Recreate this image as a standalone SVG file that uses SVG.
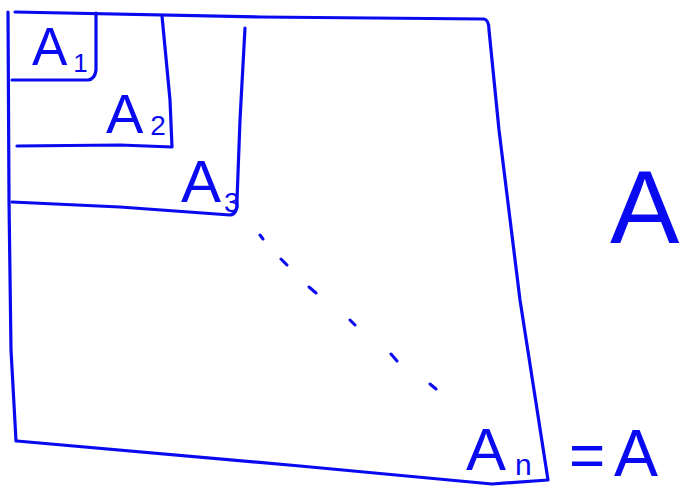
<svg xmlns="http://www.w3.org/2000/svg" width="686" height="492" viewBox="0 0 686 492">
<style>
.s{fill:none;stroke:#0a0af0;stroke-width:3.2;stroke-linecap:round;stroke-linejoin:round}
.d{fill:none;stroke:#0a0af0;stroke-width:3;stroke-linecap:round}
.t{fill:#0a0af0;font-family:"Liberation Sans","DejaVu Sans",sans-serif}
</style>
<rect width="686" height="492" fill="#fff"/>
<g id="outer">
<path class="s" d="M15,12 L260,17 L484,19 Q489,20 489,30 L499,130 L520,300 L548,480 L492,484 L300,466 L17,441"/>
<path class="s" d="M8,12 L9,200 L11,350 L16,441"/>
</g>
<g id="box1">
<path class="s" d="M12,80 L88,80 Q95,79 96,70 L96,13"/>
<text class="t" x="32" y="65" font-size="53">A<tspan font-size="26" dx="6" dy="7">1</tspan></text>
</g>
<g id="box2">
<path class="s" d="M17,146 L120,145 L172,147 L170,100 L162,16"/>
<text class="t" x="106" y="133" font-size="56">A<tspan font-size="28" dx="7" dy="2">2</tspan></text>
</g>
<g id="box3">
<path class="s" d="M12,202 L120,207 L230,215 Q238,214 237,200 L240,120 L245,28"/>
<text class="t" x="181" y="202" font-size="60">A<tspan font-size="28" dx="3" dy="10">3</tspan></text>
</g>
<g id="boxn">
<text class="t" x="466" y="470" font-size="60">A<tspan font-size="30" dx="9" dy="5">n</tspan></text>
<text class="t" x="569" y="476" font-size="62">=</text>
<text class="t" x="614" y="476" font-size="66">A</text>
</g>
<g id="labelA">
<text class="t" x="610" y="243" font-size="104">A</text>
</g>
<g id="connectors">
<path class="d" d="M260,235 L263,239 M281,259 L287,265 M309,287 L316,293 M350,320 L355,325 M391,354 L397,361 M430,384 L436,389"/>
</g>
</svg>
